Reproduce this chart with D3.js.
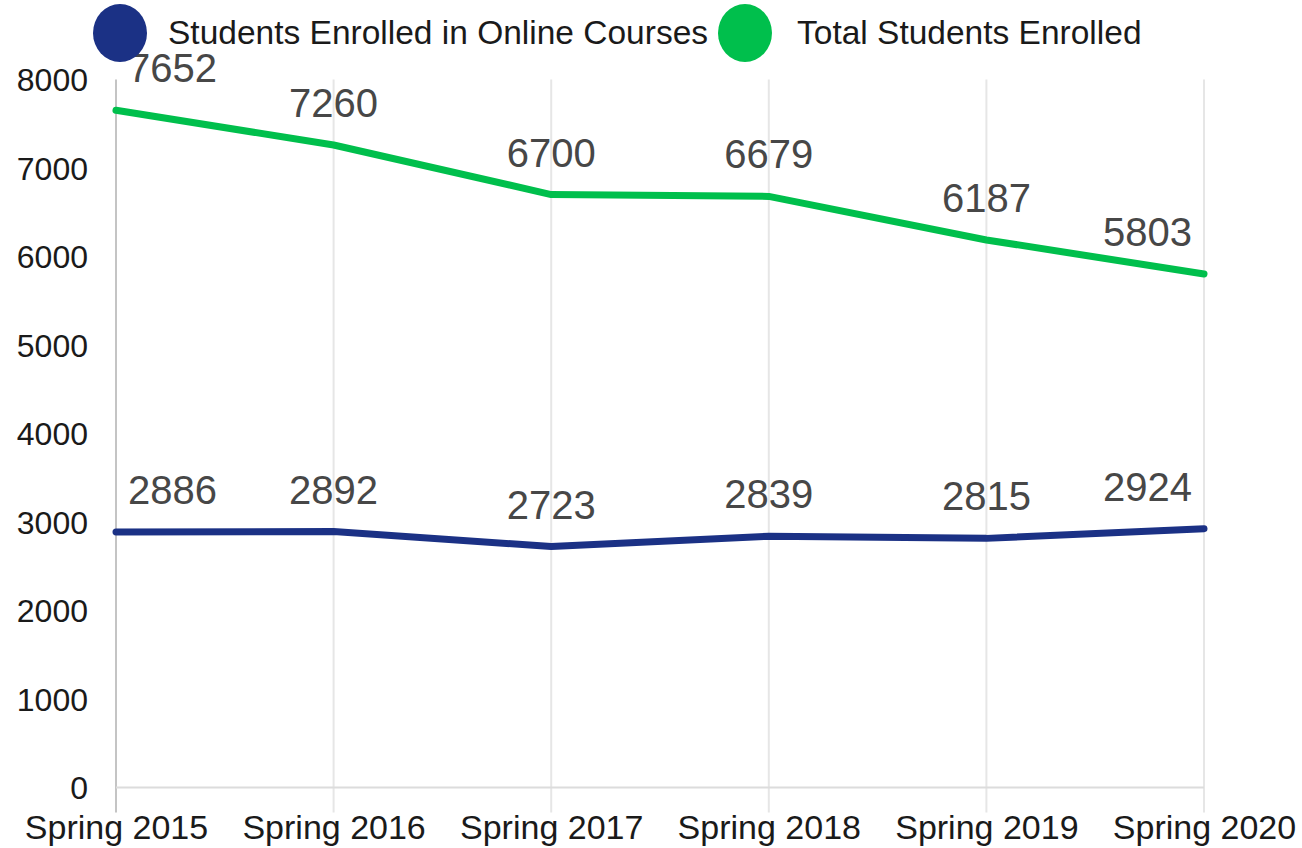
<!DOCTYPE html>
<html>
<head>
<meta charset="utf-8">
<script src="https://cdn.jsdelivr.net/npm/d3@7"></script>
<style>
    body { margin: 0; background: #fff; }
    text { font-family: "Liberation Sans", Arial, Helvetica, sans-serif; }
</style>
</head>
<body>
<div id="chart"></div>
<script>
// categories along the x axis
var terms = ["Spring 2015", "Spring 2016", "Spring 2017", "Spring 2018", "Spring 2019", "Spring 2020"];
// students in online courses
var online = [2886, 2892, 2723, 2839, 2815, 2924];
// total students enrolled
var total = [7652, 7260, 6700, 6679, 6187, 5803];
// y axis ticks
var yTicks = [0, 1000, 2000, 3000, 4000, 5000, 6000, 7000, 8000];
var seriesNames = ["Students Enrolled in Online Courses", "Total Students Enrolled"];
var seriesColors = ["#1b3185", "#00bf4c"];

var width = 1302, height = 848;
var plot = {left: 116, right: 1204, top: 79.5, bottom: 787.5};

var svg = d3.select("#chart")
    .append("svg")
    .attr("width", width)
    .attr("height", height);

var x = d3.scalePoint()
    .domain(terms)
    .range([plot.left, plot.right]);

var y = d3.scaleLinear()
    .domain([0, 8000])
    .range([plot.bottom, plot.top]);

// vertical grid lines (one per category)
svg.append("g").selectAll("line")
    .data(terms)
    .enter().append("line")
    .attr("x1", function(d) { return x(d); })
    .attr("x2", function(d) { return x(d); })
    .attr("y1", plot.top)
    .attr("y2", plot.bottom + 25)
    .attr("stroke", function(d, i) { return i == 0 ? "#c4c4c4" : "#e6e6e6"; })
    .attr("stroke-width", 2);

// baseline at zero
svg.append("line")
    .attr("x1", plot.left)
    .attr("x2", plot.right)
    .attr("y1", y(0))
    .attr("y2", y(0))
    .attr("stroke", "#dcdcdc")
    .attr("stroke-width", 2);

// y axis labels
var yAxis = d3.axisLeft(y)
    .tickValues(yTicks)
    .tickFormat(d3.format("d"))
    .tickSize(0)
    .tickPadding(28);
var gy = svg.append("g")
    .attr("transform", "translate(" + plot.left + ",0)")
    .call(yAxis);
gy.select(".domain").remove();
gy.selectAll("text")
    .attr("font-size", 32)
    .attr("fill", "#1a1a1a")
    .attr("dy", "0.35em");

// x axis labels
var xAxis = d3.axisBottom(x).tickSize(0).tickPadding(27);
var gx = svg.append("g")
    .attr("transform", "translate(0," + plot.bottom + ")")
    .call(xAxis);
gx.select(".domain").remove();
gx.selectAll("text")
    .attr("font-size", 34)
    .attr("fill", "#1a1a1a")
    .attr("dy", "0.71em");

var line = d3.line()
    .x(function(d, i) { return x(terms[i]); })
    .y(function(d) { return y(d); });

var allSeries = [online, total];

allSeries.forEach(function(vals, s) {
    svg.append("path")
        .attr("d", line(vals))
        .attr("fill", "none")
        .attr("stroke", seriesColors[s])
        .attr("stroke-width", 7)
        .attr("stroke-linejoin", "round")
        .attr("stroke-linecap", "round");
});

// data labels, kept inside the plot area like sheets does
allSeries.forEach(function(vals, s) {
    svg.append("g").selectAll("text")
        .data(vals)
        .enter().append("text")
        .attr("font-size", 40)
        .attr("fill", "#474747")
        .attr("text-anchor", "middle")
        .attr("y", function(d) { return y(d) - 42; })
        .attr("dy", "0.35em")
        .text(function(d) { return d; })
        .attr("x", function(d, i) {
            var w = this.getComputedTextLength();
            var cx = x(terms[i]);
            return Math.max(plot.left + 12 + w / 2, Math.min(plot.right - 12 - w / 2, cx));
        });
});

// legend
var legend = [
    {cx: 120, tx: 168},
    {cx: 745, tx: 797}
];
legend.forEach(function(l, i) {
    svg.append("ellipse")
        .attr("cx", l.cx)
        .attr("cy", 33)
        .attr("rx", 27)
        .attr("ry", 29)
        .attr("fill", seriesColors[i]);
    svg.append("text")
        .attr("x", l.tx)
        .attr("y", 44)
        .attr("font-size", 33.5)
        .attr("fill", "#1a1a1a")
        .text(seriesNames[i]);
});
</script>
</body>
</html>
